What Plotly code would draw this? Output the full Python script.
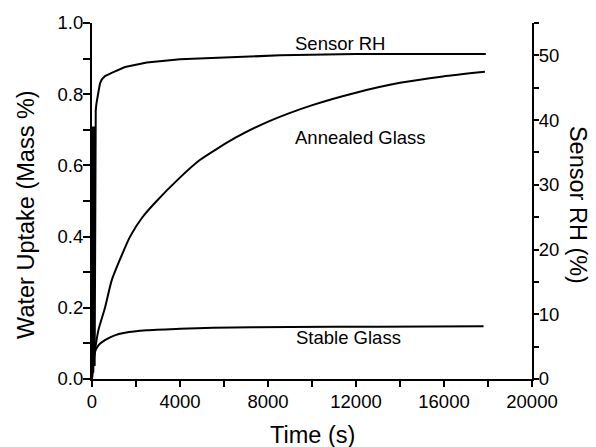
import plotly.graph_objects as go

# ---- data ----
time_rh = [0, 30, 60, 90, 120, 136, 170, 200, 240, 290, 364, 450, 590, 750, 970, 1500, 2490, 4000,
           6000, 8550, 12000, 15000, 17900]
sensor_rh = [0, 39, 1, 39, 2, 39.9, 41.5, 42.5, 43.5, 44.3, 45.7, 46.3, 46.8, 47.1, 47.4, 48.2,
             48.9, 49.4, 49.7, 50.0, 50.2, 50.2, 50.2]

time_annealed = [0, 60, 136, 290, 590, 895, 1300, 1730, 2300, 2940, 3900, 4900, 6500, 8090,
                 10050, 12040, 14000, 15950, 17860]
annealed = [0, 0.04, 0.08, 0.137, 0.2, 0.277, 0.34, 0.40, 0.455, 0.50, 0.56, 0.615, 0.677, 0.725,
            0.77, 0.805, 0.832, 0.85, 0.863]

time_stable = [0, 50, 136, 300, 590, 1000, 1500, 2490, 4000, 5500, 9000, 13000, 17800]
stable = [0, 0.045, 0.076, 0.095, 0.109, 0.122, 0.13, 0.137, 0.141, 0.144, 0.146, 0.147, 0.148]

labels = ["Sensor RH", "Annealed Glass", "Stable Glass"]
label_x = [11270, 12200, 11640]
label_y = [0.942, 0.679, 0.117]

FONT = "Liberation Sans, Arial, sans-serif"
line = dict(color="black", width=2)

fig = go.Figure()
fig.add_trace(go.Scatter(x=time_annealed, y=annealed, mode="lines", line=dict(line, shape="spline", smoothing=0.6),
                         xaxis="x", yaxis="y"))
fig.add_trace(go.Scatter(x=time_stable, y=stable, mode="lines", line=dict(line, shape="spline", smoothing=0.6),
                         xaxis="x", yaxis="y"))
fig.add_trace(go.Scatter(x=time_rh, y=sensor_rh, mode="lines", line=line, xaxis="x", yaxis="y2"))

for txt, lx, ly in zip(labels, label_x, label_y):
    fig.add_annotation(x=lx, y=ly, xref="x", yref="y", text=txt, showarrow=False,
                       xanchor="center", yanchor="middle",
                       font=dict(size=18.5, color="black", family=FONT))

title_font = dict(size=23.5, color="black", family=FONT)
fig.add_annotation(x=-0.15, y=0.461, xref="paper", yref="paper", text="Water Uptake (Mass %)",
                   textangle=-90, showarrow=False, xanchor="center", yanchor="middle", font=title_font)
fig.add_annotation(x=1.1045, y=0.489, xref="paper", yref="paper", text="Sensor RH (%)",
                   textangle=90, showarrow=False, xanchor="center", yanchor="middle", font=title_font)
fig.add_annotation(x=0.502, y=-0.156, xref="paper", yref="paper", text="Time (s)",
                   showarrow=False, xanchor="center", yanchor="middle", font=title_font)

tickfont = dict(size=18.5, color="black", family=FONT)
common = dict(showgrid=False, zeroline=False, showline=True, linecolor="black", linewidth=2,
              tickcolor="black", tickwidth=1.5, tickfont=tickfont)

fig.update_layout(
    width=596, height=447,
    margin=dict(l=92, r=64, t=21, b=68),
    paper_bgcolor="white", plot_bgcolor="white",
    showlegend=False,
    font=dict(family=FONT, color="black"),
    xaxis=dict(range=[0, 20000], tick0=0, dtick=4000, tickformat="d", ticks="outside", ticklen=6,
               ticklabelstandoff=-1,
               minor=dict(dtick=2000, ticks="outside", ticklen=6, tickcolor="black", tickwidth=1.5),
               **common),
    xaxis2=dict(range=[0, 20000], overlaying="x", side="top", tick0=0, dtick=2000,
                ticks="inside", ticklen=6, showticklabels=False, **common),
    yaxis=dict(range=[0, 1], tick0=0, dtick=0.2, tickformat=".1f", ticks="outside", ticklen=7,
               ticklabelstandoff=-4,
               minor=dict(dtick=0.1, ticks="outside", ticklen=7, tickcolor="black", tickwidth=1.5),
               **common),
    yaxis2=dict(range=[0, 55], overlaying="y", side="right", tick0=0, dtick=10, ticks="outside",
                ticklen=5, ticklabelstandoff=-4,
                minor=dict(dtick=5, ticks="outside", ticklen=5, tickcolor="black", tickwidth=1.5),
                **common),
)

fig.write_html("out.html", post_script="document.body.style.margin='0';",
               config={"displayModeBar": False})
